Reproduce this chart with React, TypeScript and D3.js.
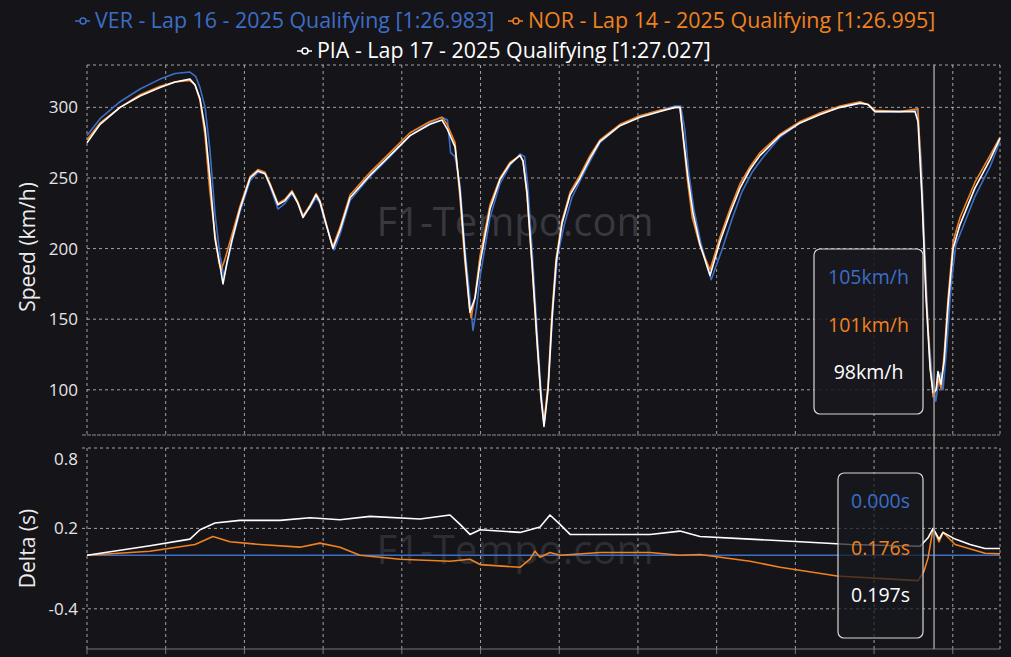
import React from "react";
import * as d3 from "d3";

// ---------- DATA ----------
const drivers = ["VER", "NOR", "PIA"];
const legendLabels = [
  "VER - Lap 16 - 2025 Qualifying [1:26.983]",
  "NOR - Lap 14 - 2025 Qualifying [1:26.995]",
  "PIA - Lap 17 - 2025 Qualifying [1:27.027]",
];
const colors = ["#3d6ec6", "#f08220", "#ffffff"];

const speedTicks = [100, 150, 200, 250, 300];
const deltaTicks = [-0.4, 0.2, 0.8];
const distanceTicks = [0, 500, 1000, 1500, 2000, 2500, 3000, 3500, 4000, 4500, 5000, 5500];

// [distance (m), speed (km/h)]
const verSpeed: [number, number][] = [
  [0, 280], [83, 292], [210, 304], [337, 313], [464, 320], [559, 324], [654, 325], [690, 322],
  [718, 314], [750, 300], [781, 270], [813, 225], [845, 195], [870, 180], [895, 192], [921, 205],
  [972, 226], [1036, 248], [1086, 254], [1131, 253], [1163, 244], [1213, 228], [1258, 232],
  [1302, 239], [1340, 232], [1372, 224], [1417, 229], [1455, 236], [1480, 232], [1512, 219],
  [1570, 199], [1607, 210], [1671, 234], [1798, 251], [1925, 265], [2052, 280], [2179, 289],
  [2255, 293], [2290, 291], [2310, 268], [2338, 265], [2370, 245], [2401, 200], [2433, 165],
  [2452, 142], [2475, 158], [2497, 180], [2560, 222], [2624, 246], [2687, 259], [2751, 267],
  [2780, 265], [2800, 245], [2830, 195], [2860, 140], [2884, 100], [2905, 76], [2935, 110],
  [2960, 158], [2990, 195], [3030, 216], [3080, 236], [3132, 248], [3196, 262], [3259, 275],
  [3386, 287], [3513, 294], [3640, 298], [3736, 301], [3772, 301], [3797, 285], [3822, 255],
  [3855, 228], [3900, 204], [3965, 178], [4030, 198], [4095, 220], [4160, 240], [4225, 254],
  [4290, 264], [4403, 279], [4530, 289], [4657, 296], [4784, 300], [4911, 303], [4962, 302],
  [5006, 297], [5165, 297], [5275, 298], [5300, 262], [5322, 200], [5345, 140], [5370, 108],
  [5392, 92], [5410, 106], [5422, 112], [5438, 100], [5460, 128], [5490, 175], [5520, 203],
  [5560, 214], [5641, 237], [5737, 258], [5800, 276],
];

const norSpeed: [number, number][] = [
  [0, 277], [83, 289], [210, 300], [337, 309], [464, 315], [559, 318], [654, 319], [686, 316],
  [718, 305], [750, 280], [781, 240], [813, 210], [838, 190], [852, 185], [875, 192], [921, 210],
  [972, 230], [1036, 251], [1086, 256], [1131, 254], [1163, 246], [1213, 232], [1258, 235],
  [1302, 241], [1340, 233], [1372, 223], [1417, 231], [1455, 239], [1480, 234], [1512, 221],
  [1560, 201], [1607, 215], [1671, 238], [1798, 254], [1925, 268], [2052, 282], [2179, 290],
  [2255, 293], [2287, 288], [2338, 275], [2370, 235], [2401, 190], [2430, 158], [2440, 151],
  [2465, 166], [2497, 195], [2560, 231], [2624, 250], [2687, 261], [2751, 266], [2770, 262],
  [2795, 238], [2827, 188], [2859, 133], [2884, 94], [2903, 77], [2929, 104], [2954, 155],
  [2980, 193], [3018, 220], [3069, 240], [3132, 252], [3196, 266], [3259, 277], [3386, 288],
  [3513, 294], [3640, 298], [3736, 300], [3767, 300], [3790, 275], [3815, 248], [3845, 222],
  [3894, 202], [3958, 185], [4021, 208], [4085, 228], [4149, 246], [4212, 258], [4276, 268],
  [4403, 281], [4530, 290], [4657, 296], [4784, 301], [4911, 304], [4962, 302], [5006, 298],
  [5165, 297], [5279, 299], [5300, 250], [5330, 170], [5356, 118], [5375, 95], [5394, 100],
  [5410, 108], [5425, 101], [5445, 125], [5470, 165], [5502, 205], [5546, 222], [5641, 247],
  [5737, 266], [5800, 279],
];

const piaSpeed: [number, number][] = [
  [0, 275], [83, 288], [210, 300], [337, 308], [464, 314], [559, 318], [654, 320], [686, 316],
  [718, 306], [750, 285], [781, 250], [813, 207], [845, 188], [864, 175], [889, 190], [921, 206],
  [972, 228], [1036, 250], [1086, 255], [1131, 253], [1163, 245], [1213, 231], [1258, 234],
  [1302, 240], [1340, 232], [1372, 222], [1417, 230], [1455, 238], [1480, 233], [1512, 220],
  [1563, 200], [1607, 213], [1671, 236], [1798, 252], [1925, 266], [2052, 280], [2179, 288],
  [2255, 291], [2287, 285], [2338, 272], [2370, 240], [2401, 195], [2433, 155], [2465, 165],
  [2497, 190], [2560, 228], [2624, 249], [2687, 260], [2751, 266], [2770, 262], [2795, 240],
  [2827, 190], [2859, 135], [2884, 95], [2903, 74], [2929, 100], [2954, 150], [2980, 190],
  [3018, 218], [3069, 238], [3132, 250], [3196, 264], [3259, 276], [3386, 287], [3513, 293],
  [3640, 297], [3736, 300], [3767, 300], [3792, 275], [3818, 250], [3850, 225], [3894, 203],
  [3958, 181], [4021, 205], [4085, 225], [4149, 243], [4212, 256], [4276, 266], [4403, 280],
  [4530, 289], [4657, 295], [4784, 300], [4911, 303], [4962, 302], [5006, 297], [5165, 297],
  [5260, 297], [5279, 290], [5305, 235], [5330, 165], [5356, 115], [5375, 98], [5394, 100],
  [5406, 113], [5425, 104], [5445, 120], [5470, 160], [5502, 200], [5546, 217], [5641, 243],
  [5737, 263], [5800, 278],
];

// [distance (m), delta (s)] relative to VER
const verDelta: [number, number][] = [[0, 0], [5800, 0]];
const norDelta: [number, number][] = [
  [0, 0], [400, 0.03], [686, 0.08], [800, 0.14], [908, 0.1], [1099, 0.08], [1353, 0.06],
  [1480, 0.09], [1607, 0.06], [1734, 0.0], [1989, -0.03], [2306, -0.045], [2433, -0.03],
  [2497, -0.07], [2751, -0.09], [2814, -0.03], [2846, 0.03], [2878, -0.015], [2941, 0.02],
  [3005, 0.0], [3259, 0.02], [3577, 0.02], [3767, 0.0], [3894, 0.005], [4212, -0.045],
  [4403, -0.09], [4765, -0.155], [5279, -0.19], [5317, -0.12], [5343, -0.02], [5375, 0.2],
  [5413, 0.1], [5438, 0.17], [5515, 0.08], [5705, 0.015], [5800, 0.01],
];
const piaDelta: [number, number][] = [
  [0, 0], [400, 0.07], [654, 0.12], [718, 0.19], [813, 0.24], [972, 0.26], [1226, 0.26],
  [1417, 0.28], [1607, 0.265], [1798, 0.29], [2116, 0.27], [2306, 0.3], [2370, 0.23],
  [2433, 0.155], [2497, 0.19], [2751, 0.17], [2878, 0.21], [2941, 0.3], [3005, 0.23],
  [3069, 0.155], [3577, 0.155], [3767, 0.18], [3894, 0.14], [4212, 0.12], [4530, 0.1],
  [4847, 0.08], [5292, 0.067], [5343, 0.13], [5375, 0.2], [5413, 0.12], [5438, 0.17],
  [5515, 0.12], [5610, 0.08], [5705, 0.05], [5800, 0.05],
];

const cursorDistance = 5381;
const cursorSpeeds = ["105km/h", "101km/h", "98km/h"];
const cursorDeltas = ["0.000s", "0.176s", "0.197s"];

// ---------- LAYOUT ----------
const W = 1011;
const H = 657;
const FONT = "'Open Sans', 'Noto Sans', sans-serif";
const BG = "#151419";

const x = d3.scaleLinear().domain([0, 5800]).range([87, 1000]);
const ySpeed = d3.scaleLinear().domain([68, 330]).range([435, 65]);
const yDelta = d3.scaleLinear().domain([-0.7, 0.8]).range([649, 448]);

const speedLine = d3
  .line<[number, number]>()
  .x((d) => x(d[0]))
  .y((d) => ySpeed(d[1]));
const deltaLine = d3
  .line<[number, number]>()
  .x((d) => x(d[0]))
  .y((d) => yDelta(d[1]));

const speeds = [verSpeed, norSpeed, piaSpeed];
const deltas = [verDelta, norDelta, piaDelta];

const gridStroke = "rgba(210,210,210,0.75)";

function LegendItem({ x0, y0, color, label }: { x0: number; y0: number; color: string; label: string }) {
  return (
    <g>
      <line x1={x0} x2={x0 + 15} y1={y0 - 7} y2={y0 - 7} stroke={color} strokeWidth={1.5} />
      <circle cx={x0 + 8} cy={y0 - 7} r={3} fill={BG} stroke={color} strokeWidth={1.5} />
      <text x={x0 + 20} y={y0} fill={color} fontSize={21.4} fontFamily={FONT}>
        {label}
      </text>
    </g>
  );
}

export default function App() {
  const [sx0, sx1] = x.range();
  const sTop = ySpeed.range()[1];
  const sBot = ySpeed.range()[0];
  const dTop = yDelta.range()[1];
  const dBot = yDelta.range()[0];
  const cx = x(cursorDistance);

  return (
    <svg
      width={W}
      height={H}
      style={{ position: "fixed", left: 0, top: 0, background: BG, display: "block" }}
    >
      <rect x={0} y={0} width={W} height={H} fill={BG} />

      {/* Legend */}
      <LegendItem x0={75} y0={28} color={colors[0]} label={legendLabels[0]} />
      <LegendItem x0={508} y0={28} color={colors[1]} label={legendLabels[1]} />
      <LegendItem x0={297} y0={58} color={colors[2]} label={legendLabels[2]} />

      {/* Watermarks */}
      <text x={515} y={236} textAnchor="middle" fill="#3c3c44" fontSize={40} fontFamily={FONT} opacity={0.9}>
        F1-Tempo.com
      </text>
      <text x={515} y={564} textAnchor="middle" fill="#34343b" fontSize={40} fontFamily={FONT} opacity={0.8}>
        F1-Tempo.com
      </text>

      {/* Speed panel grid */}
      <g>
        {distanceTicks.map((t) => (
          <line key={"sv" + t} x1={x(t)} x2={x(t)} y1={sTop} y2={sBot} stroke={gridStroke} strokeDasharray="3,3" />
        ))}
        <line x1={sx1} x2={sx1} y1={sTop} y2={sBot} stroke={gridStroke} strokeDasharray="3,3" />
        <line x1={sx0} x2={sx1} y1={sTop} y2={sTop} stroke={gridStroke} strokeDasharray="3,3" />
        {speedTicks.map((t) => (
          <g key={"sh" + t}>
            <line x1={sx0} x2={sx1} y1={ySpeed(t)} y2={ySpeed(t)} stroke={gridStroke} strokeDasharray="3,3" />
            <text x={78} y={ySpeed(t) + 6} textAnchor="end" fill="#e6e6e6" fontSize={17} fontFamily={FONT}>
              {t}
            </text>
          </g>
        ))}
        <line x1={sx0 - 5} x2={sx1} y1={sBot} y2={sBot} stroke="rgba(170,170,170,0.8)" strokeDasharray="4,1" />
        <text
          transform={`translate(35,${(sTop + sBot) / 2 - 3}) rotate(-90)`}
          textAnchor="middle"
          fill="#ececec"
          fontSize={21}
          fontFamily={FONT}
        >
          Speed (km/h)
        </text>
      </g>

      {/* Delta panel grid */}
      <g>
        {distanceTicks.map((t) => (
          <line key={"dv" + t} x1={x(t)} x2={x(t)} y1={dTop} y2={dBot} stroke={gridStroke} strokeDasharray="3,3" />
        ))}
        <line x1={sx1} x2={sx1} y1={dTop} y2={dBot} stroke={gridStroke} strokeDasharray="3,3" />
        {deltaTicks.map((t) => (
          <g key={"dh" + t}>
            <line x1={sx0 - 5} x2={sx1} y1={yDelta(t)} y2={yDelta(t)} stroke={gridStroke} strokeDasharray="3,3" />
            <text
              x={78}
              y={t === 0.8 ? yDelta(t) + 17 : yDelta(t) + 6}
              textAnchor="end"
              fill="#e6e6e6"
              fontSize={17}
              fontFamily={FONT}
            >
              {t.toFixed(1)}
            </text>
          </g>
        ))}
        <line x1={sx0} x2={sx1} y1={dBot} y2={dBot} stroke="#777" strokeWidth={1} />
        {distanceTicks.map((t) => (
          <line key={"dt" + t} x1={x(t)} x2={x(t)} y1={dBot} y2={dBot + 5} stroke="#777" />
        ))}
        <text
          transform={`translate(35,${(dTop + dBot) / 2}) rotate(-90)`}
          textAnchor="middle"
          fill="#ececec"
          fontSize={21}
          fontFamily={FONT}
        >
          Delta (s)
        </text>
      </g>

      {/* Speed traces */}
      {speeds.map((s, i) => (
        <path key={"sp" + drivers[i]} d={speedLine(s) || ""} fill="none" stroke={colors[i]} strokeWidth={1.6} strokeLinejoin="round" />
      ))}

      {/* Delta traces */}
      {deltas.map((s, i) => (
        <path key={"dl" + drivers[i]} d={deltaLine(s) || ""} fill="none" stroke={colors[i]} strokeWidth={1.6} strokeLinejoin="round" />
      ))}

      {/* Tooltip boxes */}
      <g>
        <rect x={814} y={249} width={109} height={165} rx={6} fill="rgba(24,24,30,0.88)" stroke="#d8d8d8" strokeWidth={1.2} />
        {cursorSpeeds.map((s, i) => (
          <text key={"ts" + i} x={868.5} y={284 + i * 47.5} textAnchor="middle" fill={colors[i]} fontSize={19.5} fontFamily={FONT}>
            {s}
          </text>
        ))}
        <rect x={838} y={473} width={85} height={165} rx={6} fill="rgba(24,24,30,0.72)" stroke="#d8d8d8" strokeWidth={1.2} />
        {cursorDeltas.map((s, i) => (
          <text key={"td" + i} x={880.5} y={508 + i * 47} textAnchor="middle" fill={colors[i]} fontSize={19.5} fontFamily={FONT}>
            {s}
          </text>
        ))}
      </g>

      {/* Cursor */}
      <line x1={cx} x2={cx} y1={sTop} y2={dBot} stroke="#9a9a9a" strokeWidth={1.5} />
    </svg>
  );
}
